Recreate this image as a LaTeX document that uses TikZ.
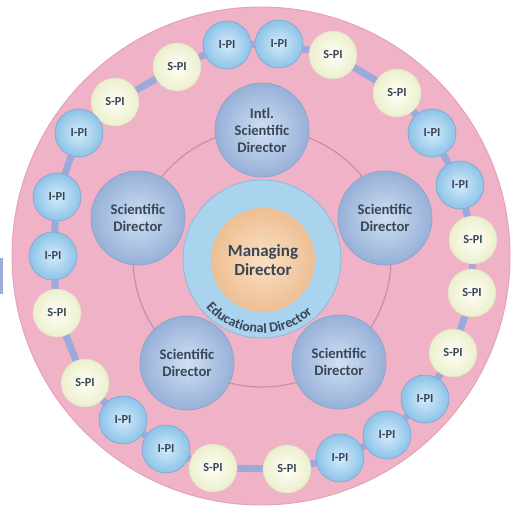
\documentclass[tikz,border=0pt]{standalone}
\usepackage{fontspec}
\setmainfont{Carlito}
\usetikzlibrary{decorations.text}

\definecolor{discpink}{RGB}{240,178,198}
\definecolor{discedge}{RGB}{228,160,182}
\definecolor{ringline}{RGB}{205,140,165}
\definecolor{dirin}{RGB}{208,224,243}
\definecolor{dirout}{RGB}{150,176,215}
\definecolor{dirline}{RGB}{140,164,204}
\definecolor{ipiin}{RGB}{212,235,250}
\definecolor{ipiout}{RGB}{140,195,232}
\definecolor{ipiline}{RGB}{122,166,206}
\definecolor{spiin}{RGB}{255,255,248}
\definecolor{spiout}{RGB}{236,239,204}
\definecolor{spiline}{RGB}{226,220,200}
\definecolor{edublue}{RGB}{170,212,238}
\definecolor{eduline}{RGB}{140,188,224}
\definecolor{mdin}{RGB}{249,224,196}
\definecolor{mdout}{RGB}{238,190,146}
\definecolor{linkblue}{RGB}{155,170,218}
\definecolor{artblue}{RGB}{160,172,222}
\definecolor{inkgrey}{RGB}{58,70,88}

\begin{document}
\begin{tikzpicture}[x=0.03cm, y=-0.03cm,
    director/.style={circle, draw=dirline, line width=0.6pt, inner color=dirin, outer color=dirout, minimum size=2.82cm, inner sep=0pt, align=center, text=inkgrey, font=\fontsize{12.5}{14.5}\selectfont\bfseries},
    ipi/.style={circle, draw=ipiline, line width=0.5pt, inner color=ipiin, outer color=ipiout, minimum size=1.44cm, inner sep=0pt, text=inkgrey, font=\fontsize{10.5}{12}\selectfont\bfseries},
    spi/.style={ipi, draw=spiline, inner color=spiin, outer color=spiout},
    link/.style={draw=linkblue, line width=6pt}
]
\useasboundingbox (0,0) rectangle (512,509);
\fill[artblue] (0,258) rectangle (3,294);
\draw[discedge, fill=discpink, line width=0.8pt] (261,256) circle[radius=249];
\draw[ringline, line width=1pt] (262,258) circle[radius=129];

\node[circle, draw=eduline, line width=0.8pt, fill=edublue, minimum size=4.74cm] (edu) at (262,259) {};
\node[circle, inner color=mdin, outer color=mdout, minimum size=3.12cm, inner sep=0pt, align=center, text=inkgrey, font=\fontsize{14.5}{16}\selectfont\bfseries] (md) at (263,260) {Managing\\Director};
\path[decorate, decoration={text along path, text align=center, text color=inkgrey,
    text={|\fontsize{12}{12}\selectfont\bfseries|Educational Director}}]
    (edu.center) ++(142:74) arc[start angle=142, end angle=44, radius=74];

\node[director] (intl) at (262,130) {Intl.\\Scientific\\Director};
\node[director] (sdleft) at (138,218) {Scientific\\Director};
\node[director] (sdright) at (385,218) {Scientific\\Director};
\node[director] (sdbotleft) at (187,363) {Scientific\\Director};
\node[director] (sdbotright) at (339,362) {Scientific\\Director};

\foreach \px/\py/\kind/\lbl [count=\i] in {227/45/ipi/I-PI, 279/44/ipi/I-PI, 333/55/spi/S-PI, 397/93/spi/S-PI,
    432/133/ipi/I-PI, 460/185/ipi/I-PI, 473/240/spi/S-PI, 472/293/spi/S-PI, 453/353/spi/S-PI,
    425/399/ipi/I-PI, 387/435/ipi/I-PI, 340/458/ipi/I-PI, 287/469/spi/S-PI, 213/468/spi/S-PI,
    166/449/ipi/I-PI, 123/420/ipi/I-PI, 85/383/spi/S-PI, 57/313/spi/S-PI, 53/256/ipi/I-PI,
    57/197/ipi/I-PI, 79/133/ipi/I-PI, 115/102/spi/S-PI, 177/67/spi/S-PI}
  \node[\kind] (p\i) at (\px,\py) {\lbl};
\foreach \i [evaluate=\i as \j using {int(mod(\i,23)+1)}] in {1,...,23}
  \draw[link] (p\i) -- (p\j);
\end{tikzpicture}
\end{document}
